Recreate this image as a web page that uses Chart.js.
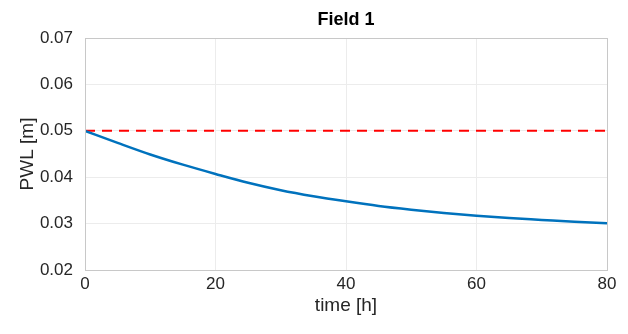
<!DOCTYPE html>
<html>
<head>
<meta charset="utf-8">
<script src="https://cdn.jsdelivr.net/npm/chart.js@4/dist/chart.umd.min.js"></script>
<style>
  html, body { margin: 0; padding: 0; background: #fff; }
  #wrap { width: 628px; height: 334px; }
</style>
</head>
<body>
<div id="wrap"><canvas id="chart" width="628" height="334"></canvas></div>
<script>
// time axis [h] and water level
const timeH = [0, 5, 10, 15, 20, 25, 30, 35, 40, 45, 50, 55, 60, 65, 70, 75, 80];
const pwl = [0.0500, 0.0474, 0.0449, 0.0427, 0.0407, 0.0388, 0.0372, 0.0359, 0.0348,
             0.0338, 0.0330, 0.0323, 0.0317, 0.0312, 0.0308, 0.0304, 0.0301];
const limitTime = [0, 80];
const limitValue = [0.05, 0.05];
const yTicks = [0.02, 0.03, 0.04, 0.05, 0.06, 0.07];
const xTicks = [0, 20, 40, 60, 80];
const titleText = 'Field 1';

const FONT = "'Liberation Sans', Arial, Helvetica, sans-serif";
const TEXT = '#262626';

// box around the plot area + title centred over it (matlab style)
const boxPlugin = {
  id: 'box',
  afterDraw(chart) {
    const { ctx, chartArea: a } = chart;
    ctx.save();
    ctx.strokeStyle = '#c8c8c8';
    ctx.lineWidth = 1;
    ctx.strokeRect(a.left + 0.5, a.top + 0.5, a.right - a.left, a.bottom - a.top);

    ctx.fillStyle = '#000';
    ctx.font = 'bold 18px ' + FONT;
    ctx.textAlign = 'center';
    ctx.textBaseline = 'middle';
    ctx.fillText(titleText, (a.left + a.right) / 2, 20);
    ctx.restore();
  }
};

new Chart(document.getElementById('chart'), {
  type: 'line',
  data: {
    datasets: [
      {
        data: limitTime.map((t, i) => ({ x: t, y: limitValue[i] })),
        borderColor: '#ff0000',
        borderWidth: 2,
        borderDash: [10, 7],
        pointRadius: 0,
        order: 2
      },
      {
        data: timeH.map((t, i) => ({ x: t, y: pwl[i] })),
        borderColor: '#0072BD',
        borderWidth: 2.5,
        cubicInterpolationMode: 'monotone',
        pointRadius: 0,
        order: 1
      }
    ]
  },
  options: {
    responsive: false,
    animation: false,
    layout: { padding: { left: 0, right: 21, top: 38, bottom: 0 } },
    plugins: {
      legend: { display: false },
      tooltip: { enabled: false },
      title: { display: false }
    },
    scales: {
      x: {
        type: 'linear',
        min: 0,
        max: 80,
        afterBuildTicks(scale) { scale.ticks = xTicks.map(v => ({ value: v })); },
        afterFit(scale) { scale.height = 64; },
        ticks: {
          color: TEXT,
          font: { family: FONT, size: 17 },
          padding: 4,
          maxRotation: 0
        },
        grid: { color: '#ececec', drawTicks: false },
        border: { color: '#c8c8c8' },
        title: {
          display: true,
          text: 'time [h]',
          color: TEXT,
          font: { family: FONT, size: 19 },
          padding: { bottom: 17 }
        }
      },
      y: {
        min: 0.02,
        max: 0.07,
        afterBuildTicks(scale) { scale.ticks = yTicks.map(v => ({ value: v })); },
        afterFit(scale) { scale.width = 85; },
        ticks: {
          color: TEXT,
          font: { family: FONT, size: 17 },
          padding: 12,
          callback: v => v.toFixed(2)
        },
        grid: { color: '#ececec', drawTicks: false },
        border: { color: '#c8c8c8' },
        title: {
          display: true,
          text: 'PWL [m]',
          color: TEXT,
          font: { family: FONT, size: 19 },
          padding: { top: 16 }
        }
      }
    }
  },
  plugins: [boxPlugin]
});
</script>
</body>
</html>
